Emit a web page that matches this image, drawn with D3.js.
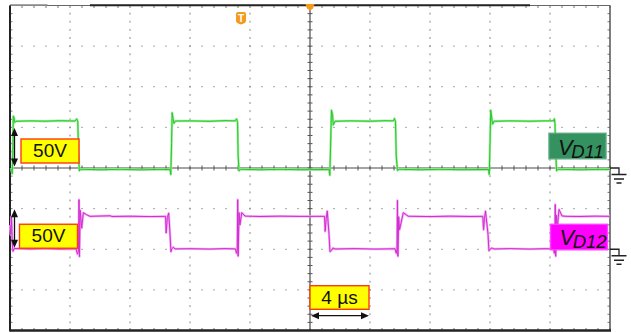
<!DOCTYPE html>
<html><head><meta charset="utf-8">
<script src="https://cdn.jsdelivr.net/npm/d3@7"></script>
<style>html,body{margin:0;padding:0;background:#fff;overflow:hidden}svg{display:block}</style>
</head><body><svg id="c" width="631" height="333"></svg>
<script>
// Scope settings
const voltsPerDiv = [50, 50];
const voltLabels = ["50V", "50V"];
const timeLabel = "4 µs";
const timePerDiv = 4;
const channelNames = [["V", "D11"], ["V", "D12"]];
const groundDivs = [0, -2];
const triggerTime = -4.6;

// Channel 1: V_D11 waveform, [time µs, volts]
const vD11 = [
  [-20.00,-1.8],[-19.90,-1.5],[-19.85,-7],[-19.81,25],[-19.78,64],[-19.73,62],[-19.68,56],[-19.60,57.5],
  [-18.67,58],[-17.67,57.6],[-16.67,58.2],[-15.67,57.8],[-15.55,60.5],[-15.48,57],[-15.43,20],[-15.38,-3.5],
  [-15.30,-1.5],[-14.00,-2.2],[-12.67,-1.6],[-11.33,-2.3],[-10.00,-1.7],[-9.33,-2],
  [-9.28,-8],[-9.23,30],[-9.19,68],[-9.13,61],[-9.07,55],[-8.97,57.8],[-8.00,58],[-6.67,57.5],[-5.67,58.3],
  [-5.00,58],[-4.89,60.5],[-4.83,56],[-4.79,15],[-4.73,-3.5],[-4.63,-1.5],[-3.33,-2.2],[-2.00,-1.6],[-0.67,-2.1],
  [1.27,-1.8],[1.32,-9],[1.37,25],[1.43,71],[1.50,66],[1.55,53],[1.67,57.5],[2.67,58],[4.00,57.6],[5.00,58.2],
  [5.57,58],[5.63,61],[5.70,57],[5.75,15],[5.83,-3],[5.93,-1.5],[7.33,-2.2],[8.67,-1.6],[10.00,-2.1],
  [11.90,-1.8],[11.95,-8],[12.00,30],[12.05,71],[12.10,64],[12.17,54],[12.27,57.5],[13.33,58],[14.67,57.6],
  [15.67,58],[16.23,58],[16.29,60.5],[16.33,55],[16.39,15],[16.44,-3.5],[16.53,-1.5],[18.00,-2.2],[19.33,-1.7],[20.00,-1.8]
];

// Channel 2: V_D12 waveform, [time µs, volts]
const vD12 = [
  [-20.00,30],[-19.95,18],[-19.90,40],[-19.85,8],[-19.80,-2.5],[-19.70,1],[-18.67,0.3],[-17.67,0.8],[-16.67,0.2],
  [-15.60,0.6],[-15.50,-6],[-15.43,-1],[-15.40,61],[-15.37,-9],[-15.32,48],[-15.22,26],[-15.11,45],[-14.89,42.5],
  [-14.67,40.5],[-13.33,41.2],[-13.20,40.3],[-12.00,40.6],[-10.67,40.2],[-9.63,40.5],[-9.59,20],[-9.51,39],
  [-9.42,44.5],[-9.32,15],[-9.27,-3],[-9.22,0.5],[-9.11,2.5],[-9.00,0.4],[-8.00,0.7],[-6.67,0.2],[-5.67,0.8],
  [-4.97,0.4],[-4.90,-5],[-4.85,0],[-4.82,61],[-4.79,-8.5],[-4.73,45],[-4.67,30],[-4.55,45],[-4.33,40.8],
  [-3.33,40.3],[-2.00,40.7],[-0.67,40.4],[0.97,40.5],[1.01,22],[1.08,38],[1.15,47],[1.27,18],[1.33,-3],
  [1.45,-1],[1.53,1.5],[1.67,0.3],[3.00,0.8],[4.33,0.2],[5.67,0.6],[5.75,-5],[5.80,0],[5.83,60],[5.86,-8.6],
  [5.91,40],[5.97,24],[6.22,45],[6.55,40.6],[8.00,40.2],[9.33,40.7],[10.67,40.3],[11.52,40.5],[11.57,24],
  [11.63,38],[11.70,47],[11.87,18],[11.93,-2],[12.00,0],[12.13,1.5],[12.27,0.3],[13.33,0.8],[14.67,0.2],
  [15.67,0.7],[16.23,0.4],[16.29,-5],[16.32,0],[16.35,55],[16.38,-8.6],[16.43,42],[16.50,28],[16.60,49],
  [16.80,41],[17.07,40.5],[18.00,40.3],[19.00,40.7],[20.00,40.5]
];

(function () {
const pL = 10, pR = 610, pT = 5.5, pB = 330.5;
const x = d3.scaleLinear().domain([-5 * timePerDiv, 5 * timePerDiv]).range([pL, pR]);
const yDiv = d3.scaleLinear().domain([-4, 4]).range([pB, pT]);
const svg = d3.select("#c");

// ---- graticule ----
const grid = svg.append("g");
const minorT = d3.range(-20, 20.001, timePerDiv / 5);
const minorD = d3.range(-4, 4.001, 0.2);
const majorT = d3.range(-16, 16.001, timePerDiv).filter(t => Math.abs(t) > 1e-9);
const majorD = [-3, -2, -1, 1, 2, 3];

majorT.forEach(t => {
  grid.selectAll(null).data(minorD.slice(1, -1)).enter().append("rect")
    .attr("x", x(t) - 0.5).attr("y", d => yDiv(d) - 1).attr("width", 1).attr("height", 2)
    .attr("fill", "#8c8c8c");
});
majorD.forEach(dv => {
  grid.selectAll(null).data(minorT.slice(1, -1)).enter().append("rect")
    .attr("x", t => x(t) - 0.75).attr("y", yDiv(dv) - 0.5).attr("width", 1.5).attr("height", 1)
    .attr("fill", "#8c8c8c");
});

// centre axes with minor ticks
grid.append("line").attr("x1", x(0)).attr("x2", x(0)).attr("y1", pT).attr("y2", pB)
  .attr("stroke", "#4a4a4a").attr("stroke-width", 1.2);
grid.append("line").attr("x1", pL).attr("x2", pR).attr("y1", yDiv(0)).attr("y2", yDiv(0))
  .attr("stroke", "#4a4a4a").attr("stroke-width", 1.2);
grid.selectAll(null).data(minorD).enter().append("line")
  .attr("x1", x(0) - 2.5).attr("x2", x(0) + 2.5).attr("y1", d => yDiv(d)).attr("y2", d => yDiv(d))
  .attr("stroke", "#555").attr("stroke-width", 1);
grid.selectAll(null).data(minorT).enter().append("line")
  .attr("x1", t => x(t)).attr("x2", t => x(t)).attr("y1", yDiv(0) - 2.5).attr("y2", yDiv(0) + 2.5)
  .attr("stroke", "#555").attr("stroke-width", 1);

// border ticks
grid.selectAll(null).data(minorT).enter().append("line")
  .attr("x1", t => x(t)).attr("x2", t => x(t)).attr("y1", pT).attr("y2", pT + 2.5)
  .attr("stroke", "#777").attr("stroke-width", 1);
grid.selectAll(null).data(minorT).enter().append("line")
  .attr("x1", t => x(t)).attr("x2", t => x(t)).attr("y1", pB).attr("y2", pB - 2.5)
  .attr("stroke", "#777").attr("stroke-width", 1);
grid.selectAll(null).data(minorD).enter().append("line")
  .attr("x1", pL).attr("x2", pL + 2.5).attr("y1", d => yDiv(d)).attr("y2", d => yDiv(d))
  .attr("stroke", "#777").attr("stroke-width", 1);
grid.selectAll(null).data(minorD).enter().append("line")
  .attr("x1", pR).attr("x2", pR - 2.5).attr("y1", d => yDiv(d)).attr("y2", d => yDiv(d))
  .attr("stroke", "#777").attr("stroke-width", 1);

// frame
grid.append("line").attr("x1", pL).attr("x2", pR).attr("y1", pT).attr("y2", pT)
  .attr("stroke", "#666").attr("stroke-width", 1);
grid.append("line").attr("x1", x(-14.67)).attr("x2", x(14.67)).attr("y1", pT - 0.3).attr("y2", pT - 0.3)
  .attr("stroke", "#222").attr("stroke-width", 2);
grid.append("line").attr("x1", pL).attr("x2", x(-17.5)).attr("y1", pT - 0.3).attr("y2", pT - 0.3)
  .attr("stroke", "#888").attr("stroke-width", 1.8);
grid.append("line").attr("x1", pL).attr("x2", pL).attr("y1", pT).attr("y2", pB + 1)
  .attr("stroke", "#222").attr("stroke-width", 2);
grid.append("line").attr("x1", pR).attr("x2", pR).attr("y1", pT).attr("y2", pB)
  .attr("stroke", "#555").attr("stroke-width", 1.5);
grid.append("line").attr("x1", pL).attr("x2", pR + 1).attr("y1", pB).attr("y2", pB)
  .attr("stroke", "#222").attr("stroke-width", 2.5);

// ---- traces ----
const channels = [
  { data: vD11, vdiv: voltsPerDiv[0], off: groundDivs[0], core: "#22cc22", halo: "#a3e9a3" },
  { data: vD12, vdiv: voltsPerDiv[1], off: groundDivs[1], core: "#d22cd2", halo: "#f2a9f2" }
];
channels.forEach(ch => {
  const line = d3.line().x(d => x(d[0])).y(d => yDiv(d[1] / ch.vdiv + ch.off));
  svg.append("path").attr("d", line(ch.data)).attr("fill", "none")
    .attr("stroke", ch.halo).attr("stroke-width", 2.4).attr("stroke-linejoin", "round");
  svg.append("path").attr("d", line(ch.data)).attr("fill", "none")
    .attr("stroke", ch.core).attr("stroke-width", 1).attr("stroke-linejoin", "round");
});

// ---- markers ----
// ground references
channels.forEach(ch => {
  const gy = yDiv(ch.off);
  const gx = pR + 9;
  const p = d3.path();
  p.moveTo(pR, gy); p.lineTo(gx, gy); p.lineTo(gx, gy + 6.5);
  p.moveTo(gx - 7.5, gy + 6.5); p.lineTo(gx + 7.5, gy + 6.5);
  p.moveTo(gx - 5, gy + 11); p.lineTo(gx + 5, gy + 11);
  p.moveTo(gx - 2.5, gy + 15); p.lineTo(gx + 2.5, gy + 15);
  svg.append("path").attr("d", p.toString()).attr("fill", "none").attr("stroke", "#222").attr("stroke-width", 1.3);
});

// trigger position and horizontal centre marker
const tx = x(triggerTime);
svg.append("path")
  .attr("d", `M${tx-5},14 Q${tx-5},12 ${tx-3},12 L${tx+3},12 Q${tx+5},12 ${tx+5},14 L${tx+5},21 Q${tx+5},23 ${tx},24.5 Q${tx-5},23 ${tx-5},21 Z`)
  .attr("fill", "#f59a1c");
svg.append("text").attr("x", tx).attr("y", 21.5).attr("text-anchor", "middle")
  .attr("font-family", "Liberation Sans, Arial, sans-serif").attr("font-weight", "bold")
  .attr("font-size", 10).attr("fill", "#fff").text("T");
svg.append("path")
  .attr("d", `M${x(0)-4.5},4 L${x(0)+4.5},4 L${x(0)+3},8.5 L${x(0)},10.5 L${x(0)-3},8.5 Z`)
  .attr("fill", "#f59a1c");

// ---- scale annotations ----
function arrowHead(p, x0, y0, dx, dy) {
  const L = 8, w = 3.5;
  const nx = -dy, ny = dx;
  p.moveTo(x0, y0);
  p.lineTo(x0 - dx * L + nx * w, y0 - dy * L + ny * w);
  p.lineTo(x0 - dx * L - nx * w, y0 - dy * L - ny * w);
  p.closePath();
}
function vArrow(xp, y1, y2) {
  const p = d3.path();
  arrowHead(p, xp, y1, 0, -1); arrowHead(p, xp, y2, 0, 1);
  svg.append("line").attr("x1", xp).attr("x2", xp).attr("y1", y1 + 4).attr("y2", y2 - 4)
    .attr("stroke", "#111").attr("stroke-width", 1.3);
  svg.append("path").attr("d", p.toString()).attr("fill", "#111");
}
function hArrow(yp, x1, x2) {
  const p = d3.path();
  arrowHead(p, x1, yp, -1, 0); arrowHead(p, x2, yp, 1, 0);
  svg.append("line").attr("x1", x1 + 4).attr("x2", x2 - 4).attr("y1", yp).attr("y2", yp)
    .attr("stroke", "#111").attr("stroke-width", 1.3);
  svg.append("path").attr("d", p.toString()).attr("fill", "#111");
}
function labelBox(x0, y0, w, h, fill, stroke) {
  svg.append("rect").attr("x", x0).attr("y", y0).attr("width", w).attr("height", h)
    .attr("fill", fill).attr("stroke", stroke).attr("stroke-width", 1.4);
}
const font = "Liberation Sans, Arial, sans-serif";

// volts/div boxes
channels.forEach((ch, i) => {
  const gy = yDiv(ch.off), uy = yDiv(ch.off + 1);
  vArrow(pL + 4.5, uy + 0.5, gy - 1.5);
  const bx = i === 0 ? 21 : 19.5;
  const by = gy - 29.5 + (i === 0 ? 0.5 : 4.5);
  labelBox(bx, by, 58, 24, "#ffff00", "#ff3a10");
  svg.append("text").attr("x", bx + 29).attr("y", by + 18)
    .attr("text-anchor", "middle").attr("font-family", font).attr("font-size", 19)
    .attr("fill", "#111").text(voltLabels[i]);
});

// time/div box
labelBox(x(0), 285.7, 59, 23.6, "#ffff00", "#ff3a10");
svg.append("text").attr("x", x(0) + 29.5).attr("y", 303.5).attr("text-anchor", "middle")
  .attr("font-family", font).attr("font-size", 19).attr("fill", "#111").text(timeLabel);
hArrow(315.7, x(0) + 1, x(timePerDiv) - 1);

// channel name tags
const tags = [
  { x0: 549, y0: 133.3, fill: "#33925f", edge: "#5aa77f", base: 154.5 },
  { x0: 550.5, y0: 224.3, fill: "#ff00ff", edge: "#ff40ff", base: 245 }
];
tags.forEach((tg, i) => {
  labelBox(tg.x0, tg.y0, 57, 25.5, tg.fill, tg.edge);
  const t = svg.append("text").attr("x", tg.x0 + 9).attr("y", tg.base)
    .attr("font-family", font).attr("font-style", "italic").attr("fill", "#111");
  t.append("tspan").attr("font-size", 22).text(channelNames[i][0]);
  t.append("tspan").attr("font-size", 18.5).attr("dy", 3).attr("dx", -1.5).text(channelNames[i][1]);
});
})();
</script>
</body></html>
